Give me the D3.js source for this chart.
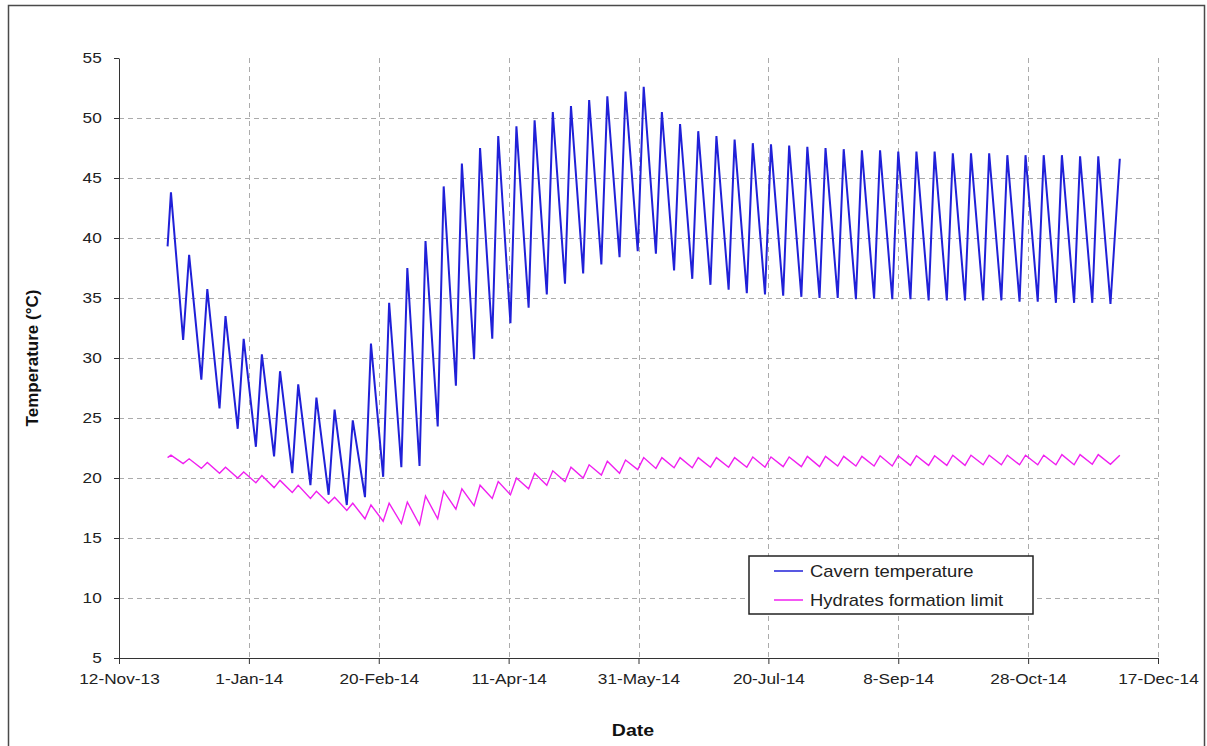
<!DOCTYPE html>
<html>
<head>
<meta charset="utf-8">
<title>Cavern temperature</title>
<script src="https://cdn.jsdelivr.net/npm/d3@7"></script>
<style>
  body { margin: 0; background: #fff; }
  svg { font-family: "Liberation Sans", Arial, sans-serif; }
  .grid line { stroke: #ababab; stroke-dasharray: 5,4; }
  .axis path, .axis line { stroke: #333; }
  .axis text { fill: #222; font-size: 15px; }
</style>
</head>
<body>
<svg id="chart" width="1207" height="746"></svg>
<script>
// day 0 = 12-Nov-13
var startDate = "2013-11-12";
var tickDates = ["2013-11-12", "2014-01-01", "2014-02-20", "2014-04-11", "2014-05-31",
                 "2014-07-20", "2014-09-08", "2014-10-28", "2014-12-17"];
var yTicks = [5, 10, 15, 20, 25, 30, 35, 40, 45, 50, 55];

// first and last sample (day, cavern, hydrates)
var firstPoint = [18.7, 39.3, 21.7];
var lastPoint = [385.3, 46.6, 21.9];

// weekly highs (just after each injection)
var peakDays = [20,27,34,41,48,55,62,69,76,83,90,97,104,111,118,125,132,139,146,153,160,167,174,181,188,195,
                202,209,216,223,230,237,244,251,258,265,272,279,286,293,300,307,314,321,328,335,342,349,356,363,370,377];
var cavernPeaks = [43.8,38.6,35.75,33.5,31.6,30.3,28.9,27.8,26.7,25.7,24.8,31.2,34.6,37.5,39.75,44.3,46.2,47.5,48.5,49.3,
                   49.8,50.5,51.0,51.5,51.8,52.2,52.6,50.5,49.5,48.9,48.5,48.2,47.9,47.8,47.7,47.6,47.5,47.4,47.3,47.3,
                   47.2,47.2,47.2,47.05,47.05,47.05,46.9,46.9,46.9,46.9,46.8,46.8];
var hydratePeaks = [21.9,21.6,21.3,20.9,20.5,20.2,19.8,19.4,18.9,18.4,17.9,17.75,17.9,18.0,18.5,18.9,19.1,19.4,19.7,20.0,
                    20.4,20.6,20.9,21.1,21.4,21.5,21.7,21.7,21.7,21.7,21.7,21.7,21.75,21.75,21.75,21.8,21.8,21.8,21.8,21.85,
                    21.85,21.85,21.85,21.9,21.9,21.9,21.9,21.9,21.9,21.95,21.95,21.95];

// weekly lows (just before the next injection)
var troughDays = [24.7,31.7,38.7,45.7,52.7,59.7,66.7,73.7,80.7,87.7,94.7,101.7,108.7,115.7,122.7,129.7,136.7,143.7,150.7,
                  157.7,164.7,171.7,178.7,185.7,192.7,199.7,206.7,213.7,220.7,227.7,234.7,241.7,248.7,255.7,262.7,269.7,
                  276.7,283.7,290.7,297.7,304.7,311.7,318.7,325.7,332.7,339.7,346.7,353.7,360.7,367.7,374.7,381.7];
var cavernTroughs = [31.5,28.2,25.8,24.1,22.6,21.8,20.4,19.4,18.6,17.75,18.4,20.1,20.9,21.0,24.3,27.7,29.9,31.6,32.9,34.2,
                     35.3,36.2,37.05,37.8,38.4,38.9,38.7,37.3,36.6,36.1,35.7,35.4,35.3,35.2,35.1,35.0,35.0,34.9,34.95,34.9,
                     34.9,34.8,34.8,34.8,34.8,34.8,34.7,34.7,34.6,34.6,34.6,34.5];
var hydrateTroughs = [21.2,20.8,20.4,20.0,19.6,19.2,18.8,18.3,17.9,17.3,16.6,16.4,16.2,16.1,16.6,17.4,17.7,18.3,18.6,19.1,
                      19.4,19.7,20.0,20.25,20.4,20.7,20.8,20.85,20.85,20.9,20.9,20.9,20.9,20.95,20.95,20.95,21.0,21.0,21.0,21.0,
                      21.05,21.05,21.05,21.05,21.1,21.1,21.1,21.1,21.1,21.1,21.15,21.15];

var seriesNames = ["Cavern temperature", "Hydrates formation limit"];
var seriesColors = ["#2020d8", "#f020f0"];

var parse = d3.utcParse("%Y-%m-%d");
var t0 = parse(startDate);
function dayToDate(d) { return new Date(t0.getTime() + d * 864e5); }

// put samples in time order: start, peak, trough, peak, trough ..., end
var rows = [firstPoint];
peakDays.forEach(function(d, i) {
  rows.push([d, cavernPeaks[i], hydratePeaks[i]]);
  rows.push([troughDays[i], cavernTroughs[i], hydrateTroughs[i]]);
});
rows.push(lastPoint);

var svg = d3.select("#chart");
var plotLeft = 119, plotRight = 1158, plotTop = 58, plotBottom = 658;
var stretch = "scale(1.15,1)";

svg.append("rect").attr("width", 1207).attr("height", 746).attr("fill", "#fff");
svg.append("rect").attr("x", 8.5).attr("y", 5.5).attr("width", 1196).attr("height", 800)
  .attr("fill", "none").attr("stroke", "#4a4a4a").attr("stroke-width", 1.5);

var x = d3.scaleUtc().domain([parse(tickDates[0]), parse(tickDates[tickDates.length - 1])]).range([plotLeft, plotRight]);
var y = d3.scaleLinear().domain([5, 55]).range([plotBottom, plotTop]);

// gridlines
var grid = svg.append("g").attr("class", "grid");
grid.selectAll(".h").data(yTicks.slice(1, -1)).enter().append("line")
  .attr("x1", plotLeft).attr("x2", plotRight)
  .attr("y1", function(d) { return Math.round(y(d)) + 0.5; })
  .attr("y2", function(d) { return Math.round(y(d)) + 0.5; });
grid.selectAll(".v").data(tickDates.slice(1)).enter().append("line")
  .attr("y1", plotTop).attr("y2", plotBottom)
  .attr("x1", function(d) { return Math.round(x(parse(d))) + 0.5; })
  .attr("x2", function(d) { return Math.round(x(parse(d))) + 0.5; });

// lines
var line = function(col) {
  return d3.line().x(function(r) { return x(dayToDate(r[0])); }).y(function(r) { return y(r[col]); });
};
svg.append("path").datum(rows).attr("fill", "none").attr("stroke", seriesColors[1])
  .attr("stroke-width", 1.4).attr("d", line(2));
svg.append("path").datum(rows).attr("fill", "none").attr("stroke", seriesColors[0])
  .attr("stroke-width", 2).attr("stroke-linejoin", "bevel").attr("d", line(1));

// axes
var xAxis = svg.append("g").attr("class", "axis").attr("transform", "translate(0," + plotBottom + ")")
  .call(d3.axisBottom(x).tickValues(tickDates.map(parse)).tickFormat(d3.utcFormat("%-d-%b-%y"))
    .tickSize(6).tickSizeOuter(0).tickPadding(9));
xAxis.selectAll("text").attr("transform", stretch);

var yAxis = svg.append("g").attr("class", "axis").attr("transform", "translate(" + plotLeft + ",0)")
  .call(d3.axisLeft(y).tickValues(yTicks).tickSize(5).tickSizeOuter(0).tickPadding(10));
yAxis.selectAll("text").attr("transform", stretch);

// axis titles
svg.append("text").attr("transform", "translate(38,358) rotate(-90)")
  .attr("text-anchor", "middle").style("font-weight", "bold").style("font-size", "17px").attr("fill", "#111")
  .text("Temperature (°C)");
svg.append("text").attr("transform", "translate(633,736) " + stretch)
  .attr("text-anchor", "middle").style("font-weight", "bold").style("font-size", "17px").attr("fill", "#111")
  .text("Date");

// legend
var lg = svg.append("g").attr("transform", "translate(749,556)");
lg.append("rect").attr("width", 284).attr("height", 58).attr("fill", "#fff")
  .attr("stroke", "#222").attr("stroke-width", 1.5);
seriesNames.forEach(function(name, i) {
  var ly = 15 + i * 29;
  lg.append("line").attr("x1", 25).attr("x2", 54).attr("y1", ly).attr("y2", ly)
    .attr("stroke", seriesColors[i]).attr("stroke-width", 1.5);
  lg.append("text").attr("transform", "translate(61," + (ly + 6) + ") " + stretch)
    .style("font-size", "16px").attr("fill", "#222").text(name);
});
</script>
</body>
</html>
